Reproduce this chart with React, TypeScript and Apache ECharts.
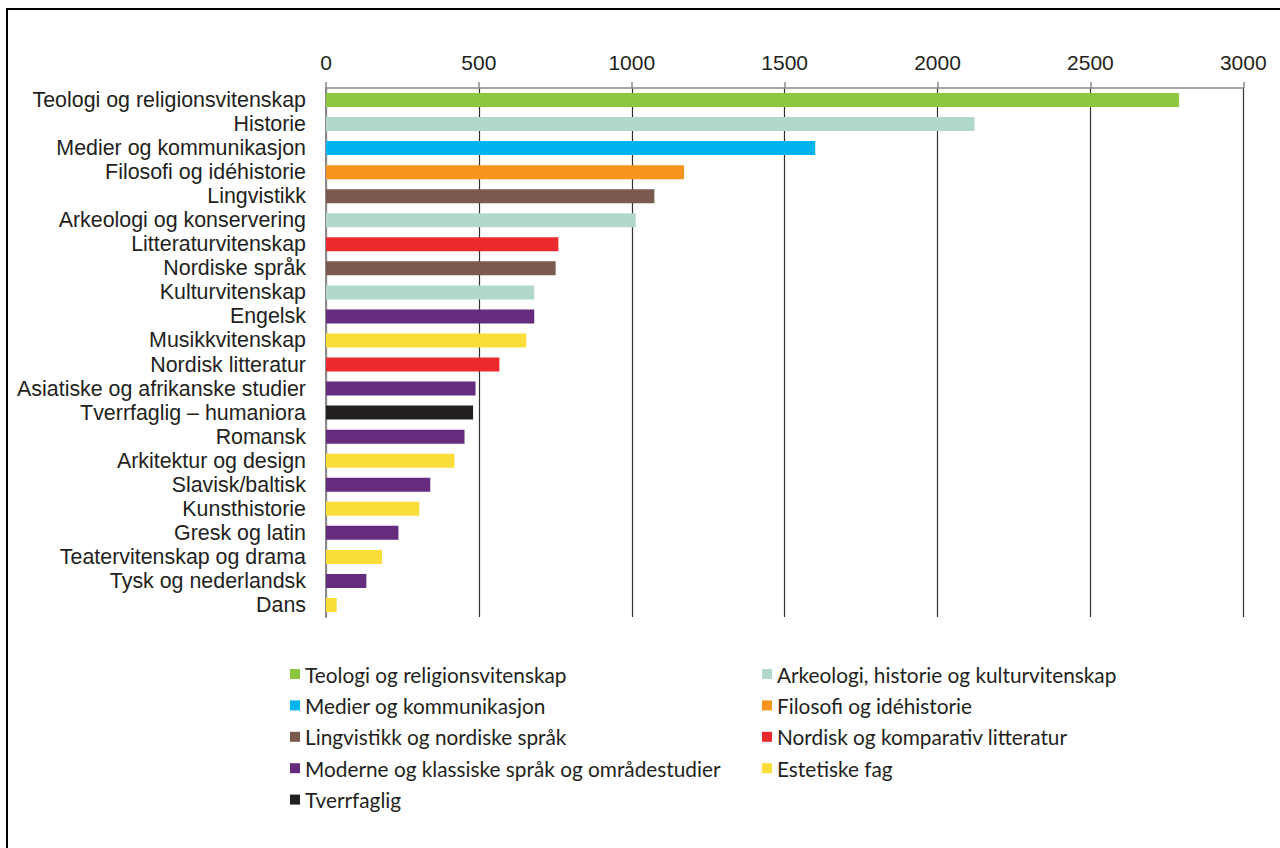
import React, { useEffect, useRef } from "react";
import * as echarts from "echarts";

const categories = [
  "Teologi og religionsvitenskap",
  "Historie",
  "Medier og kommunikasjon",
  "Filosofi og idéhistorie",
  "Lingvistikk",
  "Arkeologi og konservering",
  "Litteraturvitenskap",
  "Nordiske språk",
  "Kulturvitenskap",
  "Engelsk",
  "Musikkvitenskap",
  "Nordisk litteratur",
  "Asiatiske og afrikanske studier",
  "Tverrfaglig – humaniora",
  "Romansk",
  "Arkitektur og design",
  "Slavisk/baltisk",
  "Kunsthistorie",
  "Gresk og latin",
  "Teatervitenskap og drama",
  "Tysk og nederlandsk",
  "Dans",
];

const values = [2790, 2121, 1600, 1171, 1074, 1013, 760, 751, 681, 681, 655, 567, 489, 481, 453, 420, 341, 305, 237, 183, 132, 35];

// index into groups for each category
const groupOf = [0, 1, 2, 3, 4, 1, 5, 4, 1, 6, 7, 5, 6, 8, 6, 7, 6, 7, 6, 7, 6, 7];

const groups = [
  "Teologi og religionsvitenskap",
  "Arkeologi, historie og kulturvitenskap",
  "Medier og kommunikasjon",
  "Filosofi og idéhistorie",
  "Lingvistikk og nordiske språk",
  "Nordisk og komparativ litteratur",
  "Moderne og klassiske språk og områdestudier",
  "Estetiske fag",
  "Tverrfaglig",
];

const groupColors = ["#8dc63f", "#b1d8c8", "#00b5ef", "#f7941d", "#7a5a4e", "#ec2a2e", "#652b7c", "#fbdd3a", "#231f20"];

const leftLegend = [0, 2, 4, 6, 8];
const rightLegend = [1, 3, 5, 7];

const xTicks = { min: 0, max: 3000, interval: 500 };

export default function App() {
  const ref = useRef<HTMLDivElement>(null);
  useEffect(() => {
    if (!ref.current) return;
    const chart = echarts.init(ref.current, null, { renderer: "svg" });
    const series = groups.map((g, gi) => ({
      name: g,
      type: "bar",
      stack: "all",
      barWidth: 14,
      itemStyle: { color: groupColors[gi] },
      data: values.map((v, i) => (groupOf[i] === gi ? v : null)),
    }));
    const legendCommon = {
      orient: "vertical",
      icon: "rect",
      itemWidth: 10,
      itemHeight: 10,
      itemGap: 9.4,
      padding: 0,
      selectedMode: false,
      textStyle: { fontFamily: "Lato", fontSize: 20.8, color: "#231f20", lineHeight: 22 },
    };
    chart.setOption({
      animation: false,
      backgroundColor: "#ffffff",
      textStyle: { fontFamily: "Liberation Sans" },
      graphic: [
        {
          type: "rect",
          shape: { x: 7, y: 9, width: 1400, height: 1000 },
          style: { fill: "none", stroke: "#000", lineWidth: 2 },
          silent: true,
        },
      ],
      legend: [
        { ...legendCommon, left: 290, top: 663, data: leftLegend.map((i) => groups[i]) },
        { ...legendCommon, left: 762, top: 663, data: rightLegend.map((i) => groups[i]) },
      ],
      grid: { left: 326, top: 88, width: 917.3, height: 529, containLabel: false },
      xAxis: {
        type: "value",
        position: "top",
        min: xTicks.min,
        max: xTicks.max,
        interval: xTicks.interval,
        axisLine: { show: true, lineStyle: { color: "#8a8a8a", width: 1.5 } },
        axisTick: { show: true, length: 6, lineStyle: { color: "#8a8a8a", width: 1.5 } },
        axisLabel: {
          fontSize: 21,
          color: "#231f20",
          margin: 15,
          fontFamily: "Liberation Sans",
          formatter: (v: number) => String(v),
        },
        splitLine: { show: true, lineStyle: { color: "#333333", width: 1.2 } },
      },
      yAxis: {
        type: "category",
        inverse: true,
        data: categories,
        axisLine: { show: true, lineStyle: { color: "#8a8a8a", width: 2 } },
        axisTick: { show: false },
        axisLabel: { interval: 0, fontSize: 21.4, color: "#231f20", margin: 20, fontFamily: "Liberation Sans" },
      },
      series,
    });
    return () => chart.dispose();
  }, []);
  return (
    <div
      ref={ref}
      style={{ position: "absolute", left: 0, top: 0, width: 1280, height: 848 }}
    />
  );
}
